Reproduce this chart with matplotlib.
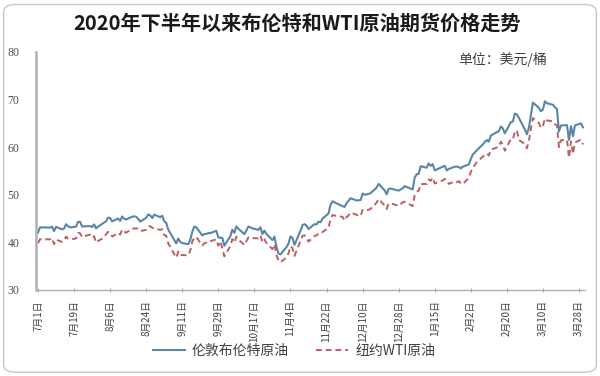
import matplotlib
matplotlib.use("Agg")
import matplotlib.pyplot as plt
from matplotlib.patches import FancyBboxPatch
import pandas as pd

plt.rcParams["font.family"] = ["Noto Sans CJK SC", "DejaVu Sans"]

# trading days, Jul 2020 .. Mar 2021 (month/day)
trade_days = """
7/1 7/2 7/6 7/7 7/8 7/9 7/10 7/13 7/14 7/15 7/16 7/17 7/20 7/21 7/22 7/23 7/24 7/27 7/28 7/29 7/30 7/31
8/3 8/4 8/5 8/6 8/7 8/10 8/11 8/12 8/13 8/14 8/17 8/18 8/19 8/20 8/21 8/24 8/25 8/26 8/27 8/28 8/31
9/1 9/2 9/3 9/4 9/8 9/9 9/10 9/11 9/14 9/15 9/16 9/17 9/18 9/21 9/22 9/23 9/24 9/25 9/28 9/29 9/30
10/1 10/2 10/5 10/6 10/7 10/8 10/9 10/12 10/13 10/14 10/15 10/16 10/19 10/20 10/21 10/22 10/23 10/26 10/27 10/28 10/29 10/30
11/2 11/3 11/4 11/5 11/6 11/9 11/10 11/11 11/12 11/13 11/16 11/17 11/18 11/19 11/20 11/23 11/24 11/25 11/27 11/30
12/1 12/2 12/3 12/4 12/7 12/8 12/9 12/10 12/11 12/14 12/15 12/16 12/17 12/18 12/21 12/22 12/23 12/24 12/28 12/29 12/30 12/31
1/4 1/5 1/6 1/7 1/8 1/11 1/12 1/13 1/14 1/15 1/19 1/20 1/21 1/22 1/25 1/26 1/27 1/28 1/29
2/1 2/2 2/3 2/4 2/5 2/8 2/9 2/10 2/11 2/12 2/16 2/17 2/18 2/19 2/22 2/23 2/24 2/25 2/26
3/1 3/2 3/3 3/4 3/5 3/8 3/9 3/10 3/11 3/12 3/15 3/16 3/17 3/18 3/19 3/22 3/23 3/24 3/25 3/26 3/29 3/30
""".split()

# Brent, USD/bbl
brent = [
    42.03, 43.14, 43.10, 43.08, 43.29, 42.35, 43.24, 42.72, 42.90, 43.79, 43.37,
    43.14, 43.28, 44.32, 44.29, 43.31, 43.34, 43.41, 43.22, 43.75, 42.94, 43.30,
    44.15, 44.43, 45.17, 45.09, 44.40, 44.99, 44.50, 45.43, 44.96, 44.80, 45.37,
    45.46, 45.37, 44.90, 44.35, 45.13, 45.86, 45.64, 45.09, 45.81, 45.28,
    45.58, 44.43, 44.07, 42.66, 39.78, 40.79, 40.06, 39.83, 39.61, 40.53, 42.22,
    43.30, 43.15, 41.44, 41.72, 41.77, 41.94, 41.92, 42.43, 41.03, 40.95,
    40.93, 39.27, 41.29, 42.65, 41.99, 43.34, 42.85, 41.72, 42.45, 43.32, 43.16,
    42.93, 42.62, 43.16, 41.73, 42.46, 41.77, 40.46, 41.20, 39.12, 37.65, 37.46,
    38.97, 39.71, 41.23, 40.93, 39.45, 42.40, 43.61, 43.80, 43.53, 42.78,
    43.82, 43.75, 44.34, 44.20, 44.96, 46.06, 47.86, 48.61, 48.18, 47.59,
    47.42, 48.25, 48.71, 49.25, 48.79, 48.84, 48.86, 50.25, 49.97, 50.29, 50.76,
    51.08, 51.50, 52.26, 50.91, 50.08, 51.20, 51.29, 50.86, 51.09, 51.34, 51.80,
    51.09, 53.60, 54.30, 54.38, 55.99, 55.66, 56.58, 56.06, 56.42, 55.10,
    55.90, 56.08, 55.10, 55.41, 55.88, 55.91, 55.81, 55.53, 55.88,
    56.35, 57.46, 58.46, 58.84, 59.34, 60.56, 61.09, 61.47, 61.14, 62.43,
    63.35, 64.34, 63.93, 62.91, 65.24, 65.37, 67.04, 66.88, 66.13,
    63.69, 62.70, 64.07, 66.74, 69.36, 68.24, 67.52, 67.90, 69.63, 69.22, 68.88,
    68.39, 68.00, 63.28, 64.53, 64.62, 61.50, 64.41, 62.30, 64.57, 64.98, 64.14,
]

# WTI, USD/bbl
wti = [
    39.82, 40.65, 40.63, 40.62, 40.90, 39.62, 40.55, 40.10, 40.29, 41.20, 40.75,
    40.59, 40.81, 41.96, 41.90, 41.07, 41.29, 41.60, 41.04, 41.27, 39.92, 40.27,
    41.01, 41.70, 42.19, 41.95, 41.22, 41.94, 41.61, 42.67, 42.24, 42.01, 42.89,
    42.89, 42.93, 42.82, 42.34, 42.62, 43.35, 43.39, 43.04, 42.97, 42.61,
    42.76, 41.51, 41.37, 39.77, 36.76, 38.05, 37.30, 37.33, 37.26, 38.28, 40.16,
    40.97, 41.11, 39.31, 39.80, 39.93, 40.31, 40.25, 40.60, 39.29, 40.22,
    38.72, 37.05, 39.22, 40.67, 39.95, 41.19, 40.60, 39.43, 40.20, 41.04, 40.96,
    40.88, 40.83, 41.46, 40.03, 40.64, 39.85, 38.56, 39.57, 37.39, 36.17, 35.79,
    36.81, 37.66, 39.15, 38.79, 37.14, 40.29, 41.36, 41.45, 41.12, 40.13,
    41.34, 41.43, 41.82, 41.74, 42.15, 43.06, 44.91, 45.71, 45.53, 45.34,
    44.55, 45.28, 45.64, 46.26, 45.76, 45.60, 45.52, 46.78, 46.57, 46.99, 47.62,
    47.82, 48.36, 49.10, 47.74, 47.02, 48.12, 48.23, 47.62, 48.00, 48.40, 48.52,
    47.62, 49.93, 50.63, 50.83, 52.24, 52.25, 53.21, 52.91, 53.57, 52.36,
    52.98, 53.31, 53.13, 52.27, 52.77, 52.61, 52.85, 52.34, 52.20,
    53.55, 54.76, 55.69, 56.23, 56.85, 57.97, 58.36, 58.68, 58.24, 59.47,
    60.05, 61.14, 60.52, 59.24, 61.70, 61.67, 63.22, 63.53, 61.50,
    60.64, 59.75, 61.28, 63.83, 66.09, 65.05, 64.01, 64.44, 66.02, 65.61, 65.39,
    64.80, 64.60, 60.00, 61.42, 61.55, 57.76, 61.18, 58.56, 60.97, 61.56, 60.55,
]

series_names = ["伦敦布伦特原油", "纽约WTI原油"]
title = "2020年下半年以来布伦特和WTI原油期货价格走势"
unit_label = "单位：美元/桶"


def to_dates(days):
    """month/day tokens -> timestamps (Jul-Dec is 2020, Jan-Mar is 2021)"""
    out = []
    for tok in days:
        m, d = (int(v) for v in tok.split("/"))
        year = 2020 if m >= 7 else 2021
        out.append(pd.Timestamp(year, m, d))
    return out


def main() -> None:
    dates = to_dates(trade_days)
    assert len(dates) == len(brent) == len(wti)

    fig = plt.figure(figsize=(6.0, 3.76), dpi=100)
    ax = fig.add_axes([0.06, 0.229, 0.915, 0.633])

    # rounded frame round the whole picture
    frame = FancyBboxPatch((0.006, 0.01), 0.988, 0.978,
                           boxstyle="round,pad=0,rounding_size=0.02",
                           transform=fig.transFigure, fill=False,
                           edgecolor="#c8c8c8", linewidth=1.0)
    fig.patches.append(frame)

    ax.plot(dates, brent, color="#5a86a6", linewidth=1.5, label=series_names[0])
    ax.plot(dates, wti, color="#bd5e62", linewidth=1.4, linestyle=(0, (3, 2)),
            label=series_names[1])

    ax.set_ylim(30, 80)
    ax.set_yticks(range(30, 81, 10))
    ax.set_xlim(pd.Timestamp(2020, 6, 30), pd.Timestamp(2021, 3, 31))

    # x ticks every 18 days from 7/1
    ticks = pd.date_range("2020-07-01", periods=16, freq="18D")
    ax.set_xticks(ticks)
    ax.set_xticklabels([f"{t.month}月{t.day}日" for t in ticks],
                       rotation=90, fontsize=7, color="#404040")

    for lab in ax.get_yticklabels():
        lab.set_family(["Liberation Serif", "DejaVu Serif"])
        lab.set_fontsize(8.5)
        lab.set_color("#505050")

    ax.tick_params(axis="y", length=0, pad=12)
    ax.tick_params(axis="x", length=3, width=0.8, color="#a8a8a8",
                   direction="inout", pad=6)
    for side in ["top", "right"]:
        ax.spines[side].set_visible(False)
    ax.spines["left"].set_color("#b0b0b0")
    ax.spines["left"].set_linewidth(1.8)
    ax.spines["bottom"].set_color("#b0b0b0")
    ax.spines["bottom"].set_linewidth(1.0)

    fig.text(0.495, 0.938, title, ha="center", va="center",
             fontsize=14.5, fontweight="bold", color="#1a1a1a")
    ax.text(0.93, 0.97, unit_label, transform=ax.transAxes, ha="right",
            va="center", fontsize=10, color="#404040")

    fig.legend(loc="center", bbox_to_anchor=(0.49, 0.066), ncol=2,
               frameon=False, fontsize=10, handlelength=2.3,
               handletextpad=0.5, columnspacing=2.0, labelcolor="#404040")

    fig.savefig("out.png", dpi=100)


if __name__ == "__main__":
    main()
